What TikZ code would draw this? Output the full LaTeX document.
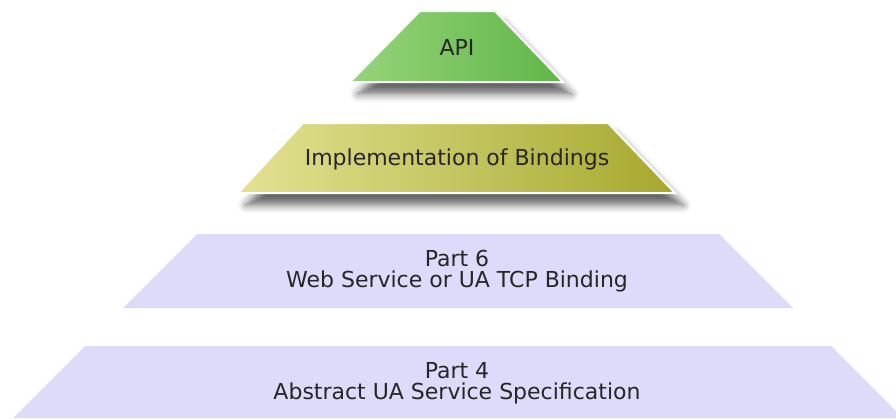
\documentclass[tikz,border=0pt]{standalone}
\usepackage{fontspec}
\setmainfont{DejaVu Sans}
\usetikzlibrary{shadows.blur}
\definecolor{apileft}{RGB}{150,212,122}
\definecolor{apiright}{RGB}{96,182,72}
\definecolor{bindleft}{RGB}{226,226,146}
\definecolor{bindright}{RGB}{166,168,46}
\definecolor{specfill}{RGB}{220,220,250}

\begin{document}
\begin{tikzpicture}[x=0.75pt, y=-0.75pt,
  layerbox/.style={draw=white, line width=1.5pt, blur shadow={shadow xshift=6pt, shadow yshift=-9pt, shadow blur radius=6pt, shadow opacity=60}},
  specband/.style={fill=specfill},
  layertext/.style={font=\fontsize{16.5}{15.8}\selectfont, text=black!85, align=center}]
\useasboundingbox (0,0) rectangle (896,418);
\path[layerbox, left color=apileft, right color=apiright] (420,11) -- (495,11) -- (563,82) -- (350,82) -- cycle;
\path[layerbox, left color=bindleft, right color=bindright] (303,123) -- (608,123) -- (675,193) -- (238,193) -- cycle;
\path[specband] (197,234) -- (719,234) -- (793,308) -- (123,308) -- cycle;
\path[specband] (85,346) -- (831,346) -- (903,418) -- (13,418) -- cycle;
\node[layertext] (api) at (457,47) {API};
\node[layertext] (bindings) at (457,159) {Implementation of Bindings};
\node[layertext] (part6) at (457,271) {Part 6\\Web Service or UA TCP Binding};
\node[layertext] (part4) at (457,383) {Part 4\\Abstract UA Service Specification};
\end{tikzpicture}
\end{document}
